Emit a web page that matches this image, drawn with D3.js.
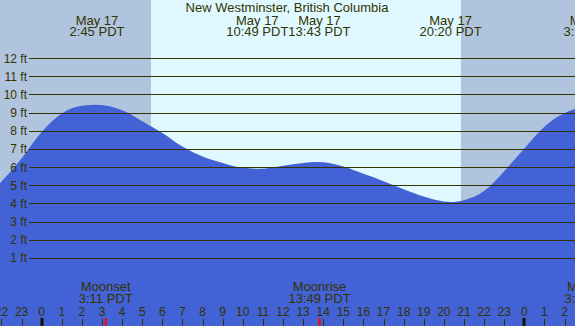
<!DOCTYPE html>
<html>
<head>
<meta charset="utf-8">
<script src="https://cdn.jsdelivr.net/npm/d3@7"></script>
<style>
  body { margin: 0; overflow: hidden; background: #fff; }
  text { font-family: "Liberation Sans", Arial, sans-serif; fill: #333300; }
</style>
</head>
<body>
<div id="chart"></div>
<script>
// 潮汐曲線讀數（以 5/17 00:00 起算的小時）
const readHour = [-2.1, -1, 0, 1, 2, 2.75, 4, 5, 6, 7, 8, 9, 10, 10.82, 12, 13, 13.72, 15, 16, 17, 18, 19, 20, 20.33, 21, 22, 23, 24, 25, 26, 26.6];
const readFeet = [5.1, 6.5, 7.95, 8.97, 9.4, 9.45, 9.15, 8.55, 7.9, 7.15, 6.6, 6.25, 5.98, 5.93, 6.1, 6.25, 6.3, 6.05, 5.65, 5.25, 4.8, 4.4, 4.13, 4.1, 4.2, 4.7, 5.8, 7.05, 8.25, 9.0, 9.25];

// 高低潮
const tideDay = [17, 17, 17, 17, 18];
const tideTime = ["2:45", "10:49", "13:43", "20:20", "3:19"];

// 日出日落
const sunDay = [17, 17];
const sunTime = ["5:26", "20:51"];

// 月出月落
const moonDay = [17, 17, 18];
const moonTime = ["3:11", "13:49", "3:22"];
const moonEvent = ["Moonset", "Moonrise", "Moonset"];

const feetTicks = [1, 2, 3, 4, 5, 6, 7, 8, 9, 10, 11, 12];
const hourTicks = d3.range(-2, 27);
const title = "New Westminster, British Columbia";

const W = 575, H = 326;

function toHour(day, time) {
    const [hh, mm] = time.split(":").map(Number);
    return (day - 17) * 24 + hh + mm / 60;
}

const x = d3.scaleLinear().domain([0, 24]).range([41.7, 524.3]);
const y = d3.scaleLinear().domain([0, 12]).range([276.5, 58.5]);

const svg = d3.select("#chart").append("svg")
    .attr("width", W)
    .attr("height", H);

// 背景：白天 / 夜晚
svg.append("rect").attr("width", W).attr("height", H).attr("fill", "#E0F8FF");
const sunrise = x(toHour(sunDay[0], sunTime[0]));
const sunset = x(toHour(sunDay[1], sunTime[1]));
svg.append("rect").attr("x", 0).attr("width", sunrise).attr("height", H).attr("fill", "#B0C4DE");
svg.append("rect").attr("x", sunset).attr("width", W - sunset).attr("height", H).attr("fill", "#B0C4DE");

// 潮汐面積
const pts = readHour.map((h, i) => ({ h: h, ft: readFeet[i] }));
const area = d3.area()
    .x(d => x(d.h))
    .y0(H)
    .y1(d => y(d.ft))
    .curve(d3.curveMonotoneX);
svg.append("path").datum(pts).attr("d", area).attr("fill", "#4262D6");

// 格線與刻度
svg.selectAll(".grid").data(feetTicks).enter().append("line")
    .attr("x1", 29).attr("x2", W)
    .attr("y1", d => Math.floor(y(d)) + 0.5)
    .attr("y2", d => Math.floor(y(d)) + 0.5)
    .attr("stroke", "#333300")
    .attr("stroke-width", 1);

svg.selectAll(".ylab").data(feetTicks).enter().append("text")
    .attr("x", 27)
    .attr("y", d => y(d) + 4)
    .attr("text-anchor", "end")
    .attr("font-size", "12px")
    .text(d => d + " ft");

// 標題
svg.append("text")
    .attr("x", 287).attr("y", 11.5)
    .attr("text-anchor", "middle")
    .attr("font-size", "13px")
    .text(title);

// 高低潮標籤（重疊時左右推開）
const tideLabels = tideTime.map((t, i) => {
    const g = svg.append("g");
    const a = g.append("text").attr("y", 24.5).attr("text-anchor", "middle").attr("font-size", "13px")
        .text("May " + tideDay[i]);
    const b = g.append("text").attr("y", 36).attr("text-anchor", "middle").attr("font-size", "13px")
        .text(t + " PDT");
    const w = Math.max(a.node().getComputedTextLength(), b.node().getComputedTextLength());
    return { g: g, cx: x(toHour(tideDay[i], t)), w: w };
});
for (let i = 1; i < tideLabels.length; i++) {
    const p = tideLabels[i - 1], c = tideLabels[i];
    const overlap = (p.cx + p.w / 2) - (c.cx - c.w / 2);
    if (overlap > 0) {
        p.cx -= overlap / 2;
        c.cx += overlap / 2;
    }
}
tideLabels.forEach(l => l.g.attr("transform", `translate(${l.cx},0)`));

// 月出月落
moonTime.forEach((t, i) => {
    const mx = x(toHour(moonDay[i], t));
    svg.append("text").attr("x", mx).attr("y", 291).attr("text-anchor", "middle").attr("font-size", "13px")
        .text(moonEvent[i]);
    svg.append("text").attr("x", mx).attr("y", 303.3).attr("text-anchor", "middle").attr("font-size", "13px")
        .text(t + " PDT");
    svg.append("rect").attr("x", mx - 1).attr("y", 318).attr("width", 2).attr("height", 8).attr("fill", "#FF0000");
});

// 小時刻度
hourTicks.forEach(h => {
    const hx = x(h);
    const midnight = ((h % 24) + 24) % 24 === 0;
    svg.append("text").attr("x", hx).attr("y", 315.5).attr("text-anchor", "middle").attr("font-size", "12px")
        .text(((h % 24) + 24) % 24);
    if (midnight) {
        svg.append("rect").attr("x", Math.round(hx) - 1.5).attr("y", 318).attr("width", 3).attr("height", 8).attr("fill", "#111100");
    } else {
        svg.append("line")
            .attr("x1", Math.round(hx) + 0.5).attr("x2", Math.round(hx) + 0.5)
            .attr("y1", 319).attr("y2", H)
            .attr("stroke", "#333300");
    }
});
</script>
</body>
</html>
